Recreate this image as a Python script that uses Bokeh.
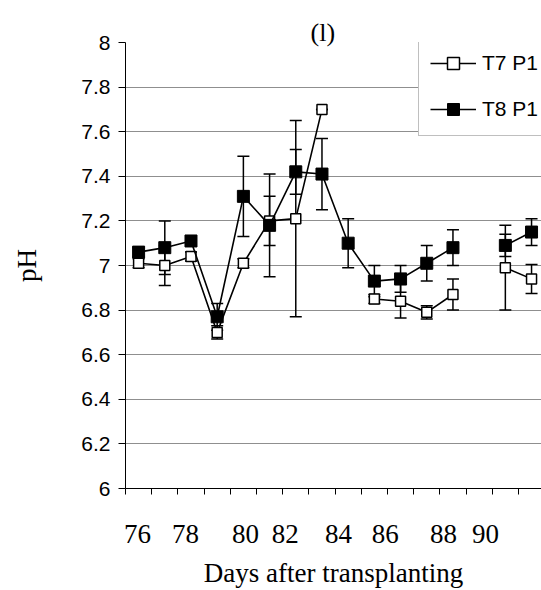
import math
from bokeh.plotting import figure
from bokeh.models import (Range1d, FixedTicker, NumeralTickFormatter, Whisker, TeeHead,
                          ColumnDataSource, Legend, LegendItem, Title)
from bokeh.embed import file_html
from bokeh.resources import INLINE

nan = float("nan")

# ---- data ----
days = [76, 77, 78, 79, 80, 81, 82, 83, 84, 85, 86, 87, 88, 89, 90, 91]
t7_ph = [7.01, 7.00, 7.04, 6.70, 7.01, 7.20, 7.21, 7.70, nan, 6.85, 6.84, 6.79, 6.87, nan, 6.99, 6.94]
t7_err = [0.02, 0.09, 0.02, 0.03, 0.02, 0.11, 0.44, 0.00, nan, 0.02, 0.075, 0.03, 0.07, nan, 0.19, 0.065]
t8_ph = [7.06, 7.08, 7.11, 6.77, 7.31, 7.18, 7.42, 7.41, 7.10, 6.93, 6.94, 7.01, 7.08, nan, 7.09, 7.15]
t8_err = [0.02, 0.12, 0.02, 0.06, 0.18, 0.23, 0.10, 0.16, 0.11, 0.07, 0.06, 0.08, 0.08, nan, 0.05, 0.06]
series_names = ["T7 P1", "T8 P1"]
x_tick_labels = ["76", "78", "80", "82", "84", "86", "88", "90"]
y_ticks = [round(6 + 0.2 * i, 1) for i in range(11)]

# hand-placed label positions of the original (in day units)
x_label_pos = [75.96, 77.79, 80.08, 81.6, 83.63, 85.42, 87.64, 89.24]
cat_bounds = [75.5 + i for i in range(17)]

def src(vals, errs):
    up = [v + e if not (math.isnan(v) or math.isnan(e)) else nan for v, e in zip(vals, errs)]
    lo = [v - e if not (math.isnan(v) or math.isnan(e)) else nan for v, e in zip(vals, errs)]
    return ColumnDataSource(dict(x=days, y=vals, upper=up, lower=lo))

s7 = src(t7_ph, t7_err)
s8 = src(t8_ph, t8_err)

SANS = "Liberation Sans"
SERIF = "Liberation Serif"

p = figure(width=541, height=590, output_backend="svg", toolbar_location=None,
           x_range=Range1d(75.5, 91.38), y_range=Range1d(6, 8),
           min_border_left=125, min_border_right=0, min_border_top=42, min_border_bottom=101)
p.outline_line_color = None
p.background_fill_color = "white"
p.border_fill_color = "white"

# title overlapping the top edge of the plot area
p.title = Title(text="(l)", align="left", offset=185, standoff=-9,
                text_font=SERIF, text_font_size="26px", text_font_style="normal",
                text_color="black")

# grid
p.xgrid.visible = False
p.ygrid.grid_line_color = "#8f8f8f"
p.ygrid.grid_line_width = 1

# y axis
p.yaxis.ticker = FixedTicker(ticks=y_ticks, minor_ticks=[])
p.yaxis.formatter = NumeralTickFormatter(format="0.[0]")
p.yaxis.major_tick_out = 7
p.yaxis.major_tick_in = 0
p.yaxis.minor_tick_out = 0
p.yaxis.minor_tick_in = 0
p.yaxis.major_label_standoff = 8
p.yaxis.major_label_text_font = SANS
p.yaxis.major_label_text_font_size = "21px"
p.yaxis.major_label_text_color = "black"
p.yaxis.axis_line_color = "black"
p.yaxis.axis_label = "pH"
p.yaxis.axis_label_text_font = SERIF
p.yaxis.axis_label_text_font_style = "normal"
p.yaxis.axis_label_text_font_size = "27px"
p.yaxis.axis_label_text_color = "black"
p.yaxis.axis_label_standoff = 36

# x axis
p.xaxis.ticker = FixedTicker(ticks=x_label_pos, minor_ticks=cat_bounds)
p.xaxis.major_label_overrides = {pos: lab for pos, lab in zip(x_label_pos, x_tick_labels)}
p.xaxis.major_tick_out = 0
p.xaxis.major_tick_in = 0
p.xaxis.minor_tick_out = 6
p.xaxis.minor_tick_in = 0
p.xaxis.minor_tick_line_color = "black"
p.xaxis.major_label_standoff = 30
p.xaxis.major_label_text_font = SERIF
p.xaxis.major_label_text_font_size = "27px"
p.xaxis.major_label_text_color = "black"
p.xaxis.axis_line_color = "black"
p.xaxis.axis_label = "Days after transplanting"
p.xaxis.axis_label_text_font = SERIF
p.xaxis.axis_label_text_font_style = "normal"
p.xaxis.axis_label_text_font_size = "27px"
p.xaxis.axis_label_text_color = "black"
p.xaxis.axis_label_standoff = 12

# error bars
for s in (s7, s8):
    w = Whisker(base="x", upper="upper", lower="lower", source=s,
                line_color="black", line_width=1.5,
                upper_head=TeeHead(size=12, line_color="black", line_width=1.5),
                lower_head=TeeHead(size=12, line_color="black", line_width=1.5))
    p.add_layout(w)

# lines + markers
l7 = p.line("x", "y", source=s7, line_color="black", line_width=1.6)
m7 = p.scatter("x", "y", source=s7, marker="square", size=10,
               fill_color="white", line_color="black", line_width=1.5)
l8 = p.line("x", "y", source=s8, line_color="black", line_width=1.6)
m8 = p.scatter("x", "y", source=s8, marker="square", size=12,
               fill_color="black", line_color="black", line_width=1)

legend = Legend(items=[LegendItem(label=series_names[0], renderers=[l7, m7]),
                       LegendItem(label=series_names[1], renderers=[l8, m8])],
                location=(293, 352))
legend.border_line_color = "#808080"
legend.border_line_width = 1
legend.background_fill_color = "white"
legend.background_fill_alpha = 1
legend.label_text_font = SANS
legend.label_text_font_size = "21px"
legend.label_text_color = "black"
legend.glyph_width = 46
legend.glyph_height = 30
legend.label_height = 30
legend.label_standoff = 6
legend.padding = 11
legend.spacing = 16
legend.margin = 0
p.add_layout(legend, "center")

open("out.html", "w").write(file_html(p, INLINE))
